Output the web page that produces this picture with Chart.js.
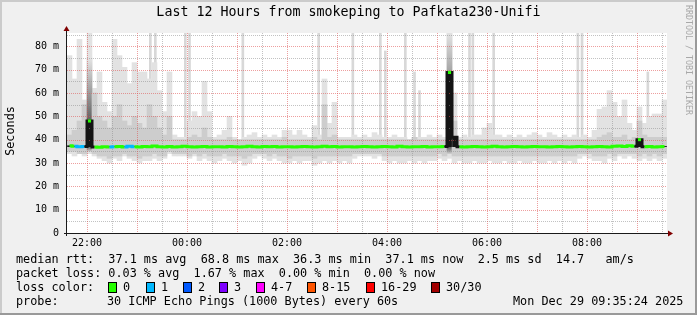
<!DOCTYPE html>
<html>
<head>
<meta charset="utf-8">
<script src="https://cdn.jsdelivr.net/npm/chart.js@4"></script>
<style>
  html, body { margin: 0; padding: 0; background: #f0f0f0; }
  canvas { display: block; }
</style>
</head>
<body>
<canvas id="smoke" width="697" height="315"></canvas>
<script>
// time window: 12 h from 21:36, one bin = 6 minutes (120 bins)
const startTime = "21:36";
const binMinutes = 6;

// light smoke (outer ping spread), ms
const smokeLo = [
  34, 33, 34, 33, 34, 33, 32, 31, 30, 32,
  31, 33, 32, 31, 30, 31, 31, 32, 31, 32,
  34, 33, 33, 33, 32, 33, 31, 32, 31, 30,
  31, 32, 31, 30, 31, 29, 30, 32, 33, 32,
  31, 32, 31, 30, 30, 31, 30, 31, 31, 29,
  30, 31, 30, 31, 30, 31, 30, 32, 33, 33,
  33, 32, 33, 31, 30, 31, 30, 30, 31, 30,
  31, 30, 31, 31, 32, 31, 32, 30, 31, 30,
  30, 31, 30, 30, 31, 30, 30, 31, 30, 30,
  31, 30, 30, 31, 30, 30, 31, 30, 31, 30,
  31, 30, 32, 33, 32, 31, 31, 30, 32, 31,
  33, 32, 33, 32, 31, 32, 31, 32, 31, 32
];
const smokeHi = [
  76, 66, 83, 57, 86, 62, 69, 56, 52, 83,
  76, 71, 64, 73, 69, 69, 66, 73, 61, 52,
  69, 42, 41, 41, 48, 52, 50, 65, 52, 41,
  42, 44, 50, 41, 40, 41, 42, 43, 41, 42,
  41, 42, 41, 44, 44, 42, 44, 42, 41, 46,
  42, 66, 47, 56, 41, 41, 41, 42, 41, 42,
  41, 43, 42, 41, 41, 42, 41, 41, 40, 41,
  41, 41, 42, 41, 42, 41, 86, 60, 41, 42,
  41, 42, 42, 45, 47, 42, 42, 41, 42, 41,
  42, 41, 42, 43, 42, 41, 43, 42, 41, 42,
  41, 42, 41, 42, 41, 44, 53, 54, 61, 56,
  50, 57, 47, 44, 54, 47, 50, 51, 51, 57
];
// denser middle of the smoke, ms
const midLo = [
  35, 35, 34, 34, 35, 34, 33, 33, 32, 33,
  33, 34, 33, 33, 32, 33, 33, 34, 33, 33,
  35, 34, 34, 34, 33, 34, 33, 34, 33, 33,
  33, 34, 33, 33, 33, 32, 33, 34, 34, 34,
  33, 34, 33, 33, 32, 33, 33, 33, 33, 32,
  33, 33, 33, 33, 33, 33, 33, 34, 34, 34,
  34, 34, 34, 33, 33, 33, 33, 33, 33, 33,
  33, 33, 33, 33, 34, 33, 34, 33, 33, 33,
  33, 33, 33, 33, 33, 33, 33, 33, 33, 33,
  33, 33, 33, 33, 33, 33, 33, 33, 33, 33,
  33, 33, 34, 34, 34, 33, 33, 33, 34, 33,
  34, 34, 34, 34, 33, 34, 33, 34, 33, 34
];
const midHi = [
  42, 44, 48, 55, 75, 60, 50, 48, 45, 50,
  55, 48, 46, 50, 47, 45, 55, 50, 45, 42,
  50, 40, 40, 40, 41, 42, 41, 45, 41, 40,
  40, 40, 41, 40, 40, 40, 40, 40, 40, 40,
  40, 40, 40, 41, 40, 40, 40, 40, 40, 41,
  40, 55, 41, 42, 40, 40, 40, 40, 40, 40,
  40, 40, 40, 40, 40, 40, 40, 40, 40, 41,
  40, 40, 40, 40, 40, 40, 86, 48, 40, 40,
  40, 40, 40, 40, 40, 40, 40, 40, 40, 40,
  40, 40, 40, 40, 40, 40, 40, 40, 40, 40,
  40, 40, 40, 40, 40, 40, 41, 42, 43, 41,
  41, 42, 40, 41, 48, 42, 41, 41, 41, 41
];
// median rtt, ms
const median = [
  37.4, 37.2, 37.0, 37.1, 48.0, 36.8, 36.7, 37.0, 36.9, 37.0,
  37.1, 36.9, 37.2, 37.0, 36.8, 37.1, 37.0, 37.3, 37.0, 36.9,
  37.1, 36.9, 37.0, 37.2, 37.0, 36.8, 37.0, 37.1, 36.9, 37.0,
  37.0, 36.9, 37.1, 37.0, 36.8, 37.0, 37.2, 37.0, 36.9, 37.1,
  37.0, 37.1, 36.9, 37.0, 37.0, 36.8, 37.0, 37.1, 37.0, 36.9,
  37.0, 37.2, 37.0, 37.1, 36.9, 37.0, 37.0, 36.8, 37.0, 37.1,
  37.0, 36.9, 37.0, 37.1, 37.0, 36.9, 37.2, 37.0, 36.8, 37.0,
  37.0, 37.1, 36.9, 37.0, 37.0, 37.1, 68.8, 41.0, 37.0, 36.9,
  37.0, 37.1, 37.0, 36.9, 37.0, 37.2, 37.0, 36.9, 37.0, 37.1,
  37.0, 36.9, 37.0, 37.1, 37.0, 37.0, 36.8, 37.0, 37.1, 37.0,
  36.9, 37.0, 37.1, 37.0, 36.9, 37.0, 37.1, 37.0, 36.9, 37.2,
  37.3, 37.1, 37.4, 37.2, 40.0, 37.0, 37.1, 36.9, 37.0, 37.1
];
// lost pings out of 30 per bin
const loss = [
  0, 0, 1, 1, 0, 0, 0, 0, 0, 1,
  0, 0, 1, 1, 0, 0, 0, 0, 0, 0,
  0, 0, 0, 0, 0, 0, 0, 0, 0, 0,
  0, 0, 0, 0, 0, 0, 0, 0, 0, 0,
  0, 0, 0, 0, 0, 0, 0, 0, 0, 0,
  0, 0, 0, 0, 0, 0, 0, 0, 0, 0,
  0, 0, 0, 0, 0, 0, 0, 0, 0, 0,
  0, 0, 0, 0, 0, 0, 0, 0, 0, 0,
  0, 0, 0, 0, 0, 0, 0, 0, 0, 0,
  0, 0, 0, 0, 0, 0, 0, 0, 0, 0,
  0, 0, 0, 0, 0, 0, 0, 0, 0, 0,
  0, 0, 0, 0, 0, 0, 0, 0, 0, 0
];
// single tall outlier pings
const spikeTimes = ["23:16", "23:22", "23:58", "00:03", "01:07", "02:38", "03:19", "03:52", "03:58",
  "04:22", "04:33", "04:39", "05:39", "05:43", "06:08", "07:49", "07:54", "09:13"];
const spikeTops = [86, 86, 86, 86, 86, 86, 86, 86, 78, 86, 69, 61, 86, 86, 86, 86, 86, 69];

const yTicks = [0, 10, 20, 30, 40, 50, 60, 70, 80];
const xTickTimes = ["22:00", "00:00", "02:00", "04:00", "06:00", "08:00"];

const lossColors = [
  ["0", "#26ff00"], ["1", "#00b8ff"], ["2", "#0059ff"], ["3", "#7e00ff"],
  ["4-7", "#ff00ff"], ["8-15", "#ff5500"], ["16-29", "#ff0000"], ["30/30", "#a10000"]
];
function lossColor(n) {
  if (n <= 3) return lossColors[n][1];
  if (n <= 7) return lossColors[4][1];
  if (n <= 15) return lossColors[5][1];
  if (n <= 29) return lossColors[6][1];
  return lossColors[7][1];
}

// minutes since midnight of the first day
function toMin(s) {
  const [h, m] = s.split(":").map(Number);
  return (h < 12 ? h + 24 : h) * 60 + m;
}
function fmt(v) {
  const h = Math.floor(v / 60) % 24, m = v % 60;
  return String(h).padStart(2, "0") + ":" + String(m).padStart(2, "0");
}

const t0 = toMin(startTime);
const t1 = t0 + 12 * 60;
const binAt = i => t0 + binMinutes * i + binMinutes / 2;

const MONO = "'DejaVu Sans Mono', monospace";

// a median bin standing well above both neighbours
function isPeak(i) {
  const prev = median[i - 1] ?? median[i], next = median[i + 1] ?? median[i];
  return median[i] - prev > 2.5 && median[i] - next > 2.5;
}

const rrdFrame = {
  id: "rrdFrame",
  beforeDraw(chart) {
    const c = chart.ctx, a = chart.chartArea;
    c.save();
    c.fillStyle = "#f0f0f0";
    c.fillRect(0, 0, chart.width, chart.height);
    c.fillStyle = "#cbcbcb";
    c.fillRect(0, 0, chart.width, 2);
    c.fillRect(0, 0, 2, chart.height);
    c.fillStyle = "#999999";
    c.fillRect(0, chart.height - 2, chart.width, 2);
    c.fillRect(chart.width - 2, 0, 2, chart.height);
    c.fillStyle = "#ffffff";
    c.fillRect(a.left, a.top, a.right - a.left, a.bottom - a.top);
    c.restore();
  },
  beforeDatasetDraw(chart, args) {
    if (args.meta.type !== "line") return;
    const c = chart.ctx, a = chart.chartArea;
    const xs = chart.scales.x, ys = chart.scales.y;
    c.save();
    c.lineWidth = 1;
    c.setLineDash([1, 1]);
    for (let v = 5; v <= ys.max; v += 5) {
      const y = Math.round(ys.getPixelForValue(v)) + 0.5;
      c.strokeStyle = v % 10 === 0 ? "rgba(222,80,80,0.55)" : "rgba(143,143,143,0.55)";
      c.beginPath(); c.moveTo(a.left, y); c.lineTo(a.right, y); c.stroke();
    }
    for (let v = Math.ceil(t0 / 30) * 30; v < t1; v += 30) {
      const x = Math.round(xs.getPixelForValue(v)) + 0.5;
      c.strokeStyle = v % 60 === 0 ? "rgba(222,80,80,0.55)" : "rgba(143,143,143,0.55)";
      c.beginPath(); c.moveTo(x, a.top); c.lineTo(x, a.bottom); c.stroke();
    }
    c.restore();
  },
  afterDraw(chart) {
    const c = chart.ctx, a = chart.chartArea;
    c.save();
    // axes with arrows
    c.strokeStyle = "#1a1a1a";
    c.lineWidth = 1;
    c.beginPath();
    c.moveTo(a.left - 3, a.bottom + 0.5); c.lineTo(a.right + 4, a.bottom + 0.5);
    c.moveTo(a.left - 0.5, a.bottom + 3); c.lineTo(a.left - 0.5, a.top - 4);
    c.stroke();
    c.fillStyle = "#800000";
    c.beginPath();
    c.moveTo(a.right + 1, a.bottom - 2.5); c.lineTo(a.right + 6, a.bottom + 0.5); c.lineTo(a.right + 1, a.bottom + 3.5);
    c.closePath(); c.fill();
    c.beginPath();
    c.moveTo(a.left - 3.5, a.top - 2); c.lineTo(a.left - 0.5, a.top - 7); c.lineTo(a.left + 2.5, a.top - 2);
    c.closePath(); c.fill();

    // title
    c.fillStyle = "#000";
    c.textBaseline = "middle";
    c.textAlign = "center";
    c.font = "13.3px " + MONO;
    c.fillText("Last 12 Hours from smokeping to Pafkata230-Unifi", 348.5, 13);

    // y title
    c.font = "11.8px " + MONO;
    c.save();
    c.translate(11, 131);
    c.rotate(-Math.PI / 2);
    c.fillText("Seconds", 0, 0);
    c.restore();

    // watermark
    c.save();
    c.fillStyle = "#a8a8a8";
    c.font = "8.3px " + MONO;
    c.translate(688, 60);
    c.rotate(Math.PI / 2);
    c.fillText("RRDTOOL / TOBI OETIKER", 0, 0);
    c.restore();

    // legend
    c.textAlign = "left";
    c.font = "11.8px " + MONO;
    const rows = [259.5, 273.5, 287.5, 301.5];
    const put = (x, row, s) => c.fillText(s, x, rows[row]);
    put(16, 0, "median rtt:  37.1 ms avg  68.8 ms max  36.3 ms min  37.1 ms now  2.5 ms sd  14.7   am/s");
    put(16, 1, "packet loss: 0.03 % avg  1.67 % max  0.00 % min  0.00 % now");
    put(16, 2, "loss color:");
    const boxX = [108, 146, 183, 219, 256, 307, 366, 431];
    lossColors.forEach(([label, col], i) => {
      c.fillStyle = col;
      c.fillRect(boxX[i] + 0.5, 282, 8, 10);
      c.strokeStyle = "#000";
      c.strokeRect(boxX[i] + 0.5, 282.5, 8, 10);
      c.fillStyle = "#000";
      c.fillText(label, boxX[i] + 15, rows[2]);
    });
    put(16, 3, "probe:");
    put(107, 3, "30 ICMP Echo Pings (1000 Bytes) every 60s");
    put(513, 3, "Mon Dec 29 09:35:24 2025");
    c.restore();
  }
};

function midColor(ctx) {
  if (ctx.type !== "data") return "#cdcdcd";
  const r = ctx.raw.y;
  if (r[1] - r[0] < 30) return "#cdcdcd";
  const ys = ctx.chart.scales.y;
  const top = ys.getPixelForValue(r[1]), bot = ys.getPixelForValue(r[0]);
  const mid = ys.getPixelForValue(38);
  const g = ctx.chart.ctx.createLinearGradient(0, top, 0, bot);
  g.addColorStop(0, "#e4e4e4");
  g.addColorStop(Math.min(0.95, (mid - top) / (bot - top)), "#303030");
  g.addColorStop(1, "#cdcdcd");
  return g;
}

new Chart(document.getElementById("smoke"), {
  type: "bar",
  data: {
    datasets: [
      {
        type: "line",
        label: "median",
        data: median.map((v, i) => ({ x: binAt(i), y: v })),
        borderColor: "#26ff00",
        borderWidth: 3,
        stepped: "middle",
        segment: {
          borderColor: ctx => Math.abs(ctx.p1.parsed.y - ctx.p0.parsed.y) > 2.5
            ? "#141414" : lossColor(loss[ctx.p1DataIndex])
        },
        pointStyle: "rect",
        pointRadius: ctx => (isPeak(ctx.dataIndex) ? 2.2 : 0),
        pointBorderWidth: 0,
        pointBackgroundColor: ctx => lossColor(loss[ctx.dataIndex]),
        order: 0
      },
      {
        label: "core",
        data: median.map((v, i) => ({ x: binAt(i), y: [37, v] })),
        backgroundColor: "#141414",
        barThickness: 4,
        stack: "smoke",
        order: 1
      },
      {
        label: "mid",
        data: midHi.map((v, i) => ({ x: binAt(i), y: [midLo[i], v] })),
        backgroundColor: midColor,
        barThickness: 5,
        stack: "smoke",
        order: 3
      },
      {
        label: "smoke",
        data: smokeHi.map((v, i) => ({ x: binAt(i), y: [smokeLo[i], v] })),
        backgroundColor: "#e2e2e2",
        barThickness: 5,
        stack: "smoke",
        order: 4
      },
      {
        label: "spikes",
        data: spikeTimes.map((t, i) => ({ x: toMin(t), y: [38, spikeTops[i]] })),
        backgroundColor: "#d8d8d8",
        barThickness: 2,
        stack: "smoke",
        order: 5
      }
    ]
  },
  options: {
    responsive: false,
    animation: false,
    devicePixelRatio: 1,
    layout: { padding: { left: 0, top: 33, right: 30, bottom: 62 } },
    plugins: { legend: { display: false }, tooltip: { enabled: false }, title: { display: false } },
    datasets: { bar: { borderWidth: 0, borderSkipped: false } },
    scales: {
      x: {
        type: "linear",
        min: t0,
        max: t1,
        offset: false,
        grid: { display: false, drawTicks: false, offset: false },
        border: { display: false },
        afterBuildTicks: s => { s.ticks = xTickTimes.map(t => ({ value: toMin(t) })); },
        afterFit: s => { s.height = 20; },
        ticks: {
          autoSkip: false,
          maxRotation: 0,
          padding: 4,
          color: "#000",
          font: { family: MONO, size: 10 },
          callback: v => fmt(v)
        }
      },
      y: {
        min: 0,
        max: 85.7,
        stacked: false,
        grid: { display: false, drawTicks: false },
        border: { display: false },
        afterBuildTicks: s => { s.ticks = yTicks.map(v => ({ value: v })); },
        afterFit: s => { s.width = 67; },
        ticks: {
          padding: 8,
          color: "#000",
          font: { family: MONO, size: 10 },
          callback: v => (v === 0 ? "0" : v + " m")
        }
      }
    }
  },
  plugins: [rrdFrame]
});
</script>
</body>
</html>
